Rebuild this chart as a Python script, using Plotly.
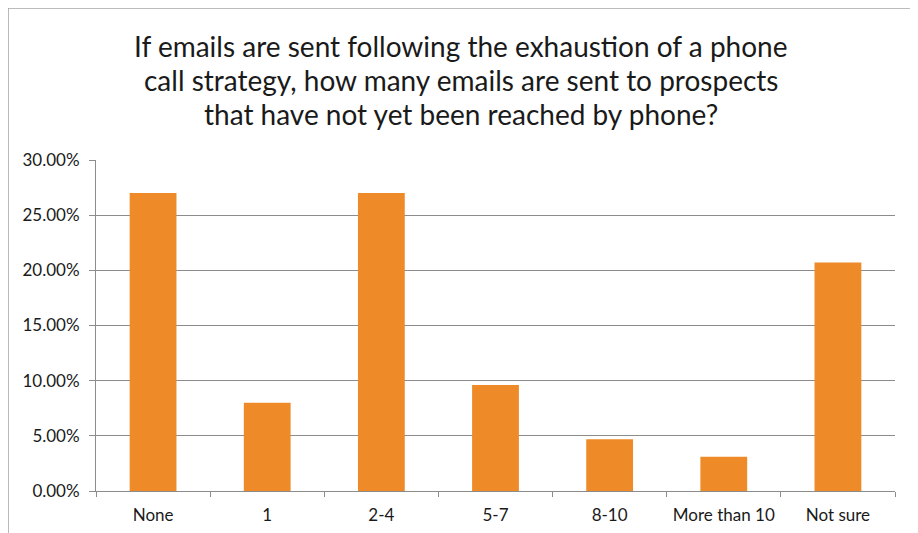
import plotly.graph_objects as go

# survey answers (share of respondents)
categories = ["None", "1", "2-4", "5-7", "8-10", "More than 10", "Not sure"]
shares = [0.270, 0.080, 0.270, 0.096, 0.047, 0.031, 0.207]
y_ticks = [0, 0.05, 0.10, 0.15, 0.20, 0.25, 0.30]

title_lines = ["If emails are sent following the exhaustion of a phone",
               "call strategy, how many emails are sent to prospects",
               "that have not yet been reached by phone?"]
title_y = [1.3444, 1.2417, 1.1390]

fig = go.Figure()
fig.add_trace(go.Bar(x=categories, y=shares, marker=dict(color="#EE8A27", line=dict(width=0)),
                     hoverinfo="x+y"))

# title as separate lines so the line spacing stays tight
for line, yy in zip(title_lines, title_y):
    fig.add_annotation(text=line, xref="paper", yref="paper", x=0.4568, y=yy,
                       xanchor="center", yanchor="middle", showarrow=False,
                       font=dict(size=28, color="#1a1a1a"))

fig.update_layout(
    width=910, height=525,
    paper_bgcolor="white", plot_bgcolor="white",
    margin=dict(l=88, r=23, t=152, b=42, autoexpand=False),
    bargap=0.59,
    showlegend=False,
    font=dict(family="Lato, Liberation Sans, sans-serif", size=17, color="#1a1a1a"),
    shapes=[dict(type="rect", xref="paper", yref="paper", x0=-0.1101, x1=1.0225,
                 y0=-0.3, y1=1.459, line=dict(color="#A6A6A6", width=1.5), layer="below")],
)

fig.update_yaxes(range=[0, 0.30], tickvals=y_ticks, tickformat=".2%",
                 tickfont=dict(size=17), automargin=False,
                 showgrid=True, gridcolor="#8C8C8C", gridwidth=1,
                 showline=True, linecolor="#8C8C8C", linewidth=1,
                 ticks="outside", ticklen=6, tickcolor="#8C8C8C", zeroline=False,
                 ticklabelstandoff=6)
fig.update_xaxes(showline=True, linecolor="#8C8C8C", linewidth=1,
                 tickfont=dict(size=17), automargin=False,
                 ticks="outside", tickson="boundaries", ticklen=5, tickcolor="#8C8C8C",
                 ticklabelstandoff=9)

fig.write_html("out.html")
